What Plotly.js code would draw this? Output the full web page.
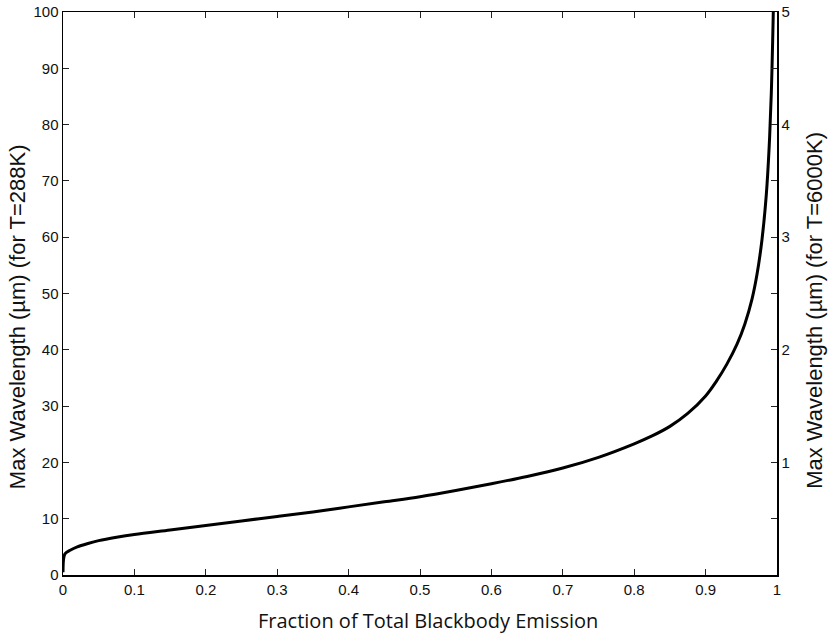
<!DOCTYPE html>
<html>
<head>
<meta charset="utf-8">
<script src="https://cdn.plot.ly/plotly-3.0.1.min.js"></script>
<style>html,body{margin:0;padding:0;background:#fff;}#chart{width:829px;height:634px;}</style>
</head>
<body>
<div id="chart"></div>
<script>
// Fraction of total blackbody emission (x) vs max wavelength in µm for T=288K (y)
const fraction = [0, 0.001, 0.003, 0.01, 0.02, 0.035, 0.05, 0.075, 0.1, 0.15, 0.2, 0.25, 0.3, 0.35, 0.4, 0.45, 0.5, 0.55, 0.6, 0.65, 0.7, 0.75, 0.8, 0.825, 0.85, 0.875, 0.9, 0.915, 0.93, 0.944, 0.955, 0.965, 0.972, 0.979, 0.985, 0.989, 0.992, 0.9948];
const wavelength288 = [0.5, 3.0, 3.8, 4.4, 5.0, 5.6, 6.1, 6.7, 7.2, 8.0, 8.8, 9.6, 10.4, 11.2, 12.1, 13.0, 13.9, 15.0, 16.2, 17.5, 19.0, 20.9, 23.3, 24.7, 26.4, 28.7, 31.8, 34.4, 37.5, 41.0, 44.6, 49.0, 53.4, 59.6, 67.5, 76.0, 85.5, 100];

const xTickVals = [0, 0.1, 0.2, 0.3, 0.4, 0.5, 0.6, 0.7, 0.8, 0.9, 1];
const xTickText = ['0', '0.1', '0.2', '0.3', '0.4', '0.5', '0.6', '0.7', '0.8', '0.9', '1'];
const yLeftTicks = [0, 10, 20, 30, 40, 50, 60, 70, 80, 90, 100];
const yRightTickVals = [0.5, 1, 1.5, 2, 2.5, 3, 3.5, 4, 4.5, 5];
const yRightTickText = ['', '1', '', '2', '', '3', '', '4', '', '5'];

const xTitle = 'Fraction of Total Blackbody Emission';
const yLeftTitle = 'Max Wavelength (µm) (for T=288K)';
const yRightTitle = 'Max Wavelength (µm) (for T=6000K)';

const tickFont = {family: 'Liberation Sans, Arial, sans-serif', size: 15, color: '#111'};
const xTitleFont = {family: 'Open Sans, Noto Sans, sans-serif', size: 20, color: '#111'};
const yTitleFont = {family: 'Liberation Sans, Arial, sans-serif', size: 22, color: '#111'};

const traces = [
  {
    x: fraction, y: wavelength288, type: 'scatter', mode: 'lines',
    line: {color: '#000', width: 3, shape: 'spline', smoothing: 1},
    hoverinfo: 'x+y', showlegend: false
  },
  {
    x: [0], y: [0], yaxis: 'y2', type: 'scatter', mode: 'markers',
    marker: {opacity: 0}, hoverinfo: 'skip', showlegend: false
  }
];

const layout = {
  width: 829, height: 634,
  margin: {l: 63, r: 52, t: 12, b: 59},
  paper_bgcolor: '#fff', plot_bgcolor: '#fff',
  showlegend: false,
  xaxis: {
    range: [0, 1], tickvals: xTickVals, ticktext: xTickText,
    ticks: 'inside', ticklen: 6, tickwidth: 1, tickcolor: '#222',
    showline: true, linecolor: '#000', linewidth: 1.5, mirror: 'ticks',
    showgrid: false, zeroline: false, tickfont: tickFont, automargin: false
  },
  yaxis: {
    range: [0, 100], tickvals: yLeftTicks,
    ticks: 'inside', ticklen: 6, tickwidth: 1, tickcolor: '#222',
    showline: true, linecolor: '#000', linewidth: 1.5, mirror: false,
    showgrid: false, zeroline: false, tickfont: tickFont, automargin: false
  },
  yaxis2: {
    range: [0, 5], overlaying: 'y', side: 'right',
    tickvals: yRightTickVals, ticktext: yRightTickText,
    ticks: 'inside', ticklen: 6, tickwidth: 1, tickcolor: '#222',
    showline: true, linecolor: '#000', linewidth: 1.5,
    showgrid: false, zeroline: false, tickfont: tickFont, automargin: false
  },
  annotations: [
    {text: xTitle, xref: 'paper', yref: 'paper', x: 0.511, y: -0.0817,
     xanchor: 'center', yanchor: 'middle', showarrow: false, font: xTitleFont},
    {text: yLeftTitle, xref: 'paper', yref: 'paper', x: -0.0644, y: 0.458, textangle: -90,
     xanchor: 'center', yanchor: 'middle', showarrow: false, font: yTitleFont},
    {text: yRightTitle, xref: 'paper', yref: 'paper', x: 1.053, y: 0.4707, textangle: -90,
     xanchor: 'center', yanchor: 'middle', showarrow: false, font: yTitleFont}
  ]
};

Plotly.newPlot('chart', traces, layout, {displayModeBar: false, staticPlot: true});
</script>
</body>
</html>
